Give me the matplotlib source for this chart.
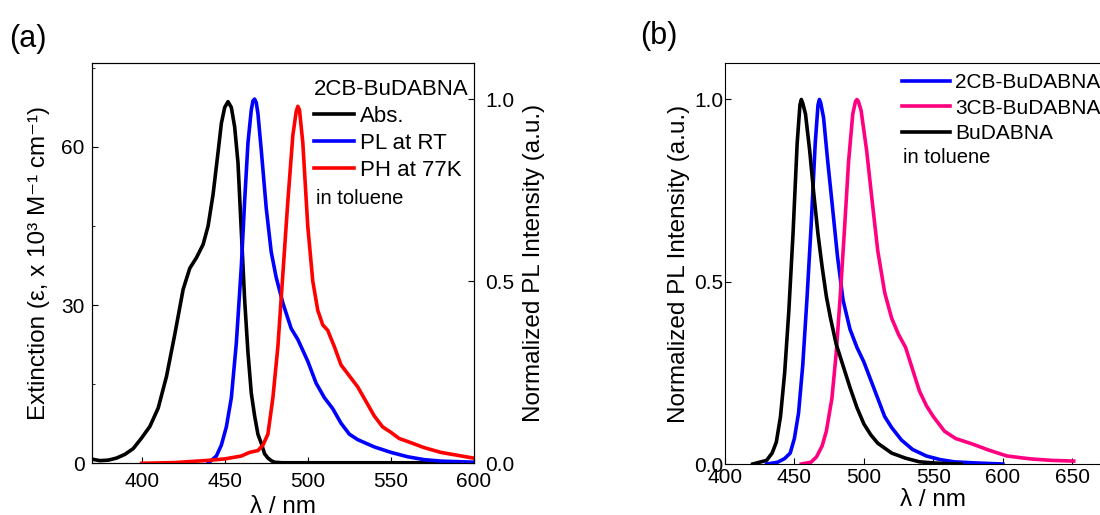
import numpy as np
import matplotlib.pyplot as plt
from matplotlib.ticker import MultipleLocator, FixedLocator

plt.rcParams['font.family'] = ['Liberation Sans', 'DejaVu Sans']
plt.rcParams['xtick.direction'] = 'in'
plt.rcParams['ytick.direction'] = 'in'

# (a) 2CB-BuDABNA in toluene
abs_wl = [370, 375, 380, 385, 390, 395, 400, 405, 410, 415, 420, 425, 429, 433, 437, 440, 443,
          446, 448, 450, 452, 454, 456, 458, 460, 462, 464, 466, 468, 470, 472, 474, 476, 478,
          480, 485, 600]
abs_eps = [0.8, 0.5, 0.6, 1.0, 1.7, 2.8, 4.8, 7.0, 10.5, 16.5, 24.5, 33, 37, 39, 41.5, 45, 51,
           59, 64.5, 67.5, 68.6, 67.5, 63.8, 57, 44, 31, 21, 13.3, 9, 5.5, 3.8, 1.8, 1.0, 0.5,
           0.2, 0.1, 0.1]

pl_wl = [440, 445, 448, 451, 454, 457, 460, 462, 464, 466, 467, 468, 469, 470, 472, 475, 478,
         481, 485, 490, 494, 500, 505, 510, 515, 520, 525, 530, 540, 550, 560, 570, 580, 600]
pl_int = [0.0, 0.02, 0.05, 0.10, 0.18, 0.33, 0.54, 0.72, 0.88, 0.97, 0.995, 1.0, 0.99, 0.96,
          0.86, 0.70, 0.58, 0.51, 0.44, 0.37, 0.34, 0.28, 0.22, 0.18, 0.15, 0.11, 0.08, 0.065,
          0.045, 0.03, 0.018, 0.01, 0.006, 0.003]

ph_wl = [400, 420, 440, 450, 460, 465, 470, 473, 476, 479, 482, 485, 488, 491, 493, 494, 495,
         497, 500, 503, 506, 509, 512, 516, 520, 525, 530, 535, 540, 545, 550, 555, 560, 570,
         580, 590, 600]
ph_int = [0.0, 0.002, 0.008, 0.012, 0.02, 0.03, 0.035, 0.05, 0.08, 0.18, 0.32, 0.52, 0.72,
          0.90, 0.965, 0.98, 0.97, 0.88, 0.65, 0.50, 0.42, 0.38, 0.365, 0.32, 0.27, 0.24,
          0.21, 0.17, 0.13, 0.10, 0.085, 0.068, 0.06, 0.043, 0.03, 0.022, 0.014]

# (b) normalized PL in toluene
bu_wl = [420, 425, 430, 434, 437, 440, 443, 446, 449, 452, 454, 455, 456, 458, 461, 464, 467,
         470, 473, 476, 480, 485, 490, 495, 500, 505, 510, 520, 530, 540, 550, 560, 570]
bu_int = [0.0, 0.005, 0.01, 0.03, 0.06, 0.13, 0.25, 0.42, 0.63, 0.88, 0.985, 1.0, 0.99, 0.96,
          0.86, 0.74, 0.63, 0.54, 0.46, 0.40, 0.33, 0.27, 0.21, 0.155, 0.11, 0.08, 0.057,
          0.03, 0.016, 0.006, 0.003, 0.001, 0.0]

cb2_wl = [430, 438, 443, 447, 450, 453, 456, 459, 462, 465, 467, 468, 469, 471, 474, 477, 481,
          485, 490, 495, 500, 505, 510, 515, 520, 527, 535, 545, 555, 565, 580, 600]
cb2_int = [0.0, 0.005, 0.015, 0.03, 0.07, 0.14, 0.27, 0.45, 0.65, 0.88, 0.985, 1.0, 0.99,
           0.95, 0.83, 0.72, 0.57, 0.45, 0.37, 0.32, 0.28, 0.23, 0.18, 0.13, 0.1, 0.066,
           0.04, 0.022, 0.012, 0.006, 0.003, 0.0]

cb3_wl = [455, 462, 466, 470, 473, 477, 480, 483, 486, 489, 492, 494, 495, 496, 498, 502, 506,
          510, 515, 520, 525, 530, 535, 540, 545, 550, 558, 566, 578, 590, 603, 620, 635, 651]
cb3_int = [0.0, 0.005, 0.02, 0.05, 0.09, 0.18, 0.30, 0.46, 0.64, 0.83, 0.96, 0.995, 1.0, 0.995,
           0.97, 0.86, 0.72, 0.585, 0.47, 0.40, 0.355, 0.32, 0.26, 0.20, 0.16, 0.13, 0.09,
           0.07, 0.055, 0.038, 0.022, 0.014, 0.01, 0.008]

fig = plt.figure(figsize=(11, 5.15), dpi=100)
lw = 2.6
tick_fs = 15
lab_fs = 17.5

# ---- panel (a)
ax1 = fig.add_axes([0.0834, 0.1004, 0.3475, 0.778])
ax2 = ax1.twinx()
l1, = ax1.plot(abs_wl, abs_eps, color='black', lw=lw, label='Abs.')
l2, = ax2.plot(pl_wl, pl_int, color='#0000ff', lw=lw, label='PL at RT')
l3, = ax2.plot(ph_wl, ph_int, color='#ff0000', lw=lw, label='PH at 77K')
ax1.set_xlim(370, 600)
ax1.set_ylim(0, 76)
ax2.set_ylim(0, 1.10)
ax1.xaxis.set_major_locator(MultipleLocator(50))
ax1.yaxis.set_major_locator(MultipleLocator(30))
ax1.yaxis.set_minor_locator(MultipleLocator(15))
ax2.yaxis.set_major_locator(MultipleLocator(0.5))
ax2.yaxis.set_major_formatter('{x:.1f}')
for a in (ax1, ax2):
    a.tick_params(labelsize=tick_fs, length=4, width=0.8)
    a.tick_params(which='minor', length=2.5)
ax1.tick_params(axis='x', pad=6)
ax1.tick_params(axis='y', pad=5)
ax2.tick_params(axis='y', pad=8)
ax1.set_xlabel('λ / nm', fontsize=lab_fs, labelpad=4)
ax1.set_ylabel('Extinction (ε, x 10³ M⁻¹ cm⁻¹)', fontsize=lab_fs, labelpad=8)
ax2.set_ylabel('Normalized PL Intensity (a.u.)', fontsize=lab_fs, labelpad=6)
ax2.legend(handles=[l1, l2, l3], loc='upper left', bbox_to_anchor=(0.581, 0.96),
           frameon=False, fontsize=16, title='2CB-BuDABNA', title_fontsize=16,
           handlelength=1.8, handletextpad=0.27, borderpad=0, borderaxespad=0,
           labelspacing=0.27, alignment='left')
ax2.text(0.586, 0.662, 'in toluene', transform=ax2.transAxes, fontsize=14.5, va='center')
fig.text(0.008, 0.925, '(a)', fontsize=22, va='center')

# ---- panel (b)
ax3 = fig.add_axes([0.659, 0.099, 0.379, 0.7786])
m1, = ax3.plot(cb2_wl, cb2_int, color='#0000ff', lw=lw, label='2CB-BuDABNA')
m2, = ax3.plot(cb3_wl, cb3_int, color='#ff0080', lw=lw, label='3CB-BuDABNA')
m3, = ax3.plot(bu_wl, bu_int, color='black', lw=lw, label='BuDABNA')
ax3.set_xlim(400, 700)
ax3.set_ylim(0, 1.10)
ax3.xaxis.set_major_locator(FixedLocator([400, 450, 500, 550, 600, 650]))
ax3.yaxis.set_major_locator(MultipleLocator(0.5))
ax3.yaxis.set_major_formatter('{x:.1f}')
ax3.tick_params(labelsize=tick_fs, length=4, width=0.8)
ax3.tick_params(axis='x', pad=3)
ax3.tick_params(axis='y', pad=1)
ax3.set_xlabel('λ / nm', fontsize=lab_fs, labelpad=1)
ax3.set_ylabel('Normalized PL Intensity (a.u.)', fontsize=lab_fs, labelpad=3)
ax3.legend(handles=[m1, m2, m3], loc='upper left', bbox_to_anchor=(0.4245, 0.975),
           frameon=False, fontsize=15, handlelength=2.3, handletextpad=0.25,
           borderpad=0, borderaxespad=0, labelspacing=0.32)
ax3.text(0.427, 0.764, 'in toluene', transform=ax3.transAxes, fontsize=14.5, va='center')
fig.text(0.582, 0.93, '(b)', fontsize=22, va='center')

fig.savefig('out.png', dpi=100)
